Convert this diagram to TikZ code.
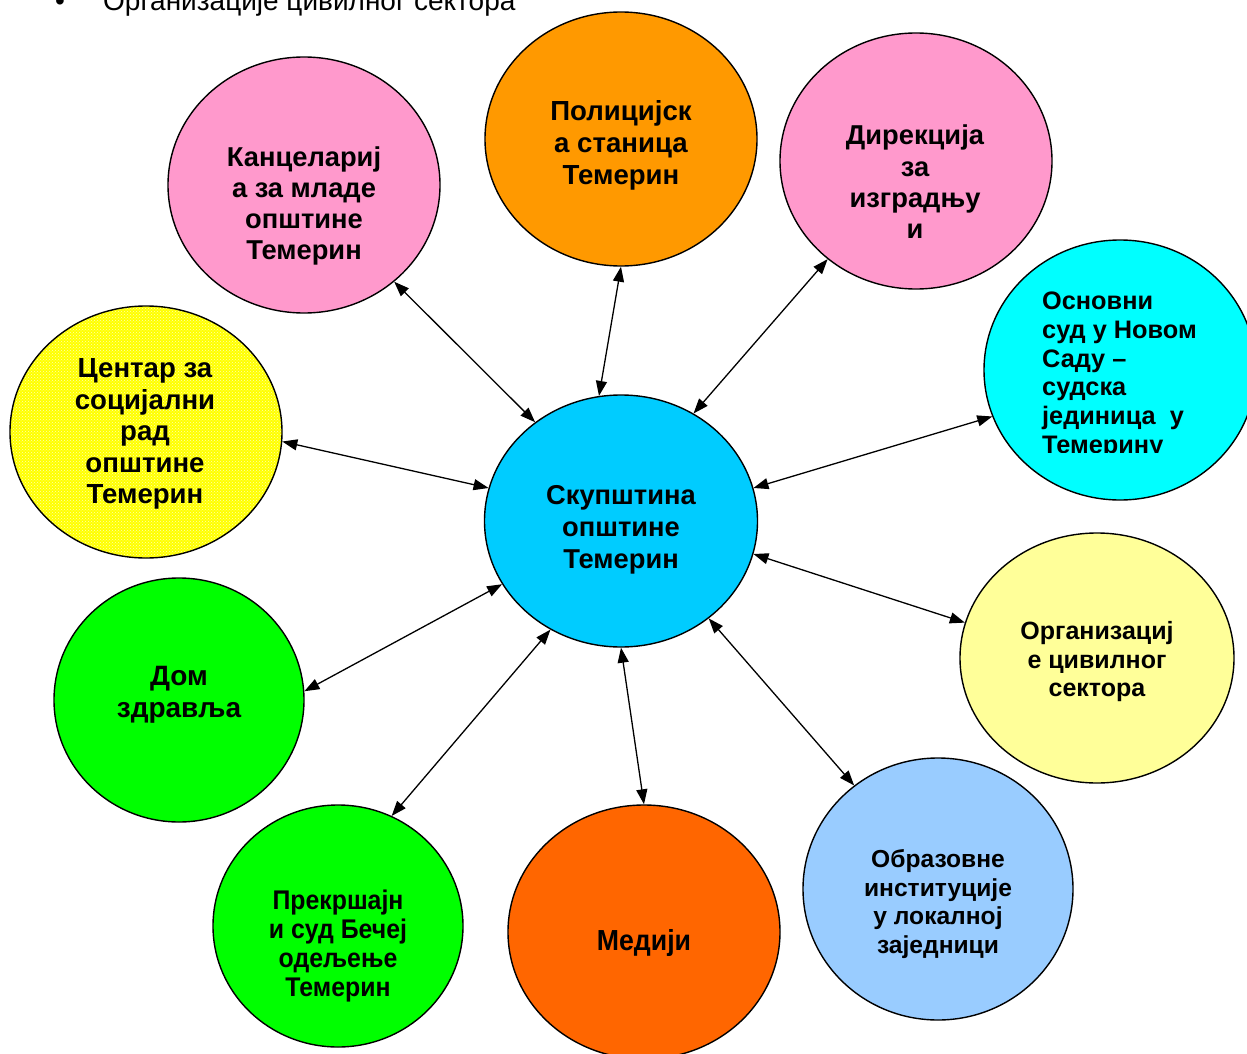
\documentclass[tikz,border=0pt]{standalone}
\usepackage{fontspec}
\setmainfont{Liberation Sans}
\newfontfamily\narrowfont{Liberation Sans}[FakeStretch=0.92]
\usetikzlibrary{shapes.geometric,arrows.meta,patterns}
\definecolor{pinkc}{HTML}{FF99CC}
\definecolor{orangec}{HTML}{FF9900}
\definecolor{cyanc}{HTML}{00FFFF}
\definecolor{skyc}{HTML}{00CCFF}
\definecolor{lyellow}{HTML}{FFFF99}
\definecolor{greenc}{HTML}{00FF00}
\definecolor{dorange}{HTML}{FF6600}
\definecolor{lblue}{HTML}{99CCFF}
\definecolor{yellowc}{HTML}{FFFF00}
\definecolor{dotc}{HTML}{FFFFB0}
\begin{document}
\begin{tikzpicture}[x=1pt,y=-1pt,
  circ/.style={ellipse,draw=black,line width=1.4pt,inner sep=0pt,minimum width=272pt,minimum height=254pt},
  lbl/.style={align=center,inner sep=0pt},
  link/.style={{Triangle[length=15pt,width=11pt]}-{Triangle[length=15pt,width=11pt]},line width=1.3pt}]
\clip (0,0) rectangle (1247,1054);
\fill[white] (0,0) rectangle (1247,1054);
% circles
\node[circ,fill=pinkc,minimum height=256pt] (kanc) at (304,185) {};
\node[circ,fill=orangec] (pol) at (621,139) {};
\node[circ,fill=pinkc,minimum height=256pt] (dir) at (916,161) {};
\node[circ,fill=cyanc,minimum height=260pt] (osn) at (1120,370) {};
\node[circ,preaction={fill=yellowc},pattern=crosshatch dots,pattern color=dotc,minimum height=252pt] (cen) at (146,432) {};
\node[circ,fill=skyc,minimum width=273pt,minimum height=252pt] (sk) at (621,521) {};
\node[circ,fill=lyellow,minimum width=274pt,minimum height=250pt] (org) at (1097,658) {};
\node[circ,fill=greenc,minimum width=250pt,minimum height=244pt] (dom) at (179,700) {};
\node[circ,fill=greenc,minimum width=250pt,minimum height=242pt] (prek) at (338,926) {};
\node[circ,fill=dorange] (med) at (644,932) {};
\node[circ,fill=lblue,minimum width=270pt,minimum height=262pt] (obr) at (938,889) {};
% connectors
\draw[link] (kanc.-47) -- (sk.131.5);
\draw[link] (pol.-90.5) -- (sk.100);
\draw[link] (dir.-132) -- (sk.56);
\draw[link] (osn.200.4) -- (sk.14);
\draw[link] (cen.-4.2) -- (sk.166);
\draw[link] (org.165.3) -- (sk.-14.7);
\draw[link] (dom.4.6) -- (sk.-152.8);
\draw[link] (prek.64.4) -- (sk.-123.4);
\draw[link] (med.90) -- (sk.-90);
\draw[link] (obr.129.9) -- (sk.-48.8);
% texts
\node[anchor=base west,inner sep=0pt,font=\fontsize{28}{33}\selectfont] (bul) at (55,10.5) {•};
\node[anchor=base west,inner sep=0pt,font=\fontsize{28}{33}\selectfont] (head) at (103,10.5) {Организације цивилног сектора};
\node[lbl,font=\bfseries\fontsize{27.3}{31}\selectfont] (kanct) at (304,206) {Канцелариј\\а за младе\\општине\\Темерин};
\node[lbl,font=\bfseries\fontsize{27.6}{32}\selectfont] (polt) at (621,145) {Полицијск\\а станица\\Темерин};
\node[lbl,font=\bfseries\fontsize{27.3}{31.3}\selectfont] (dirt) at (915,182) {Дирекција\\за\\изградњу\\и};
\begin{scope}
\clip (960,240) rectangle (1247,452);
\node[align=left,inner sep=0pt,anchor=north west,font=\bfseries\fontsize{25.3}{28.7}\selectfont] (osnt) at (1042,292) {Основни\\суд у Новом\\Саду –\\судска\\јединица\ \ у\\Темерину};
\end{scope}
\node[lbl,font=\bfseries\fontsize{27.6}{31.5}\selectfont] (cent) at (145,434) {Центар за\\социјални\\рад\\општине\\Темерин};
\node[lbl,font=\bfseries\fontsize{27.3}{32}\selectfont] (skt) at (621,530) {Скупштина\\општине\\Темерин};
\node[lbl,font=\bfseries\fontsize{25}{28.5}\selectfont] (orgt) at (1097,662) {Организациј\\е цивилног\\сектора};
\node[lbl,font=\bfseries\fontsize{28}{32}\selectfont] (domt) at (179,695) {Дом\\здравља};
\node[lbl,font=\narrowfont\bfseries\fontsize{27}{28.7}\selectfont] (prekt) at (338,946) {Прекршајн\\и суд Бечеј\\одељење\\Темерин};
\node[lbl,font=\narrowfont\bfseries\fontsize{29}{32}\selectfont] (medt) at (644,943) {Медији};
\node[lbl,font=\bfseries\fontsize{24.6}{28.7}\selectfont] (obrt) at (938,904) {Образовне\\институције\\у локалној\\заједници};
\end{tikzpicture}
\end{document}
